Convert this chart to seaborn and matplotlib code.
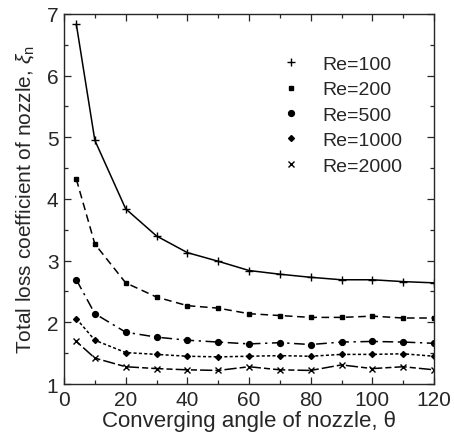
import numpy as np
import pandas as pd
import seaborn as sns
import matplotlib.pyplot as plt
from matplotlib.lines import Line2D

# converging angle (deg)
theta = [4, 10, 20, 30, 40, 50, 60, 70, 80, 90, 100, 110, 120]

re_labels = ["Re=100", "Re=200", "Re=500", "Re=1000", "Re=2000"]
xi_re100 = [6.83, 4.95, 3.84, 3.40, 3.13, 2.99, 2.84, 2.78, 2.73, 2.69, 2.69, 2.66, 2.64]
xi_re200 = [4.32, 3.27, 2.64, 2.41, 2.27, 2.23, 2.14, 2.11, 2.08, 2.08, 2.10, 2.07, 2.07]
xi_re500 = [2.69, 2.14, 1.84, 1.76, 1.71, 1.68, 1.65, 1.67, 1.64, 1.68, 1.69, 1.68, 1.66]
xi_re1000 = [2.06, 1.71, 1.51, 1.48, 1.45, 1.44, 1.45, 1.46, 1.45, 1.48, 1.48, 1.49, 1.45]
xi_re2000 = [1.69, 1.42, 1.28, 1.25, 1.23, 1.22, 1.28, 1.23, 1.22, 1.31, 1.25, 1.28, 1.23]

series = [xi_re100, xi_re200, xi_re500, xi_re1000, xi_re2000]
markers = ["+", "s", "o", "D", "x"]
msizes = [6, 3.2, 4.2, 3, 4.5]
dashes = [(None, None), (5, 3), (7, 3, 1.5, 3), (2, 1.5), (4, 2, 8, 2)]

df = pd.DataFrame({
    "theta": theta * len(series),
    "xi": sum(series, []),
    "Re": sum([[lab] * len(theta) for lab in re_labels], []),
})

sns.set_style("ticks")
plt.rcParams["font.family"] = ["Liberation Sans", "DejaVu Sans"]
plt.rcParams["mathtext.fontset"] = "custom"
plt.rcParams["mathtext.rm"] = "Liberation Sans"
plt.rcParams["mathtext.it"] = "Liberation Sans:italic"

fig = plt.figure(figsize=(4.54, 4.39), dpi=100)
ax = fig.add_axes([0.141, 0.123, 0.815, 0.843])

handles = []
for i, lab in enumerate(re_labels):
    sub = df[df["Re"] == lab]
    sns.lineplot(data=sub, x="theta", y="xi", ax=ax, color="black", lw=1.1,
                 marker=markers[i], markersize=msizes[i], markeredgewidth=1.0,
                 markeredgecolor="black", legend=False)
    line = ax.get_lines()[-1]
    if dashes[i][0] is not None:
        line.set_dashes(dashes[i])
    handles.append(Line2D([], [], color="black", lw=0, marker=markers[i],
                          markersize=msizes[i], markeredgewidth=1.0))

ax.set_xlim(0, 120)
ax.set_ylim(1, 7)
ax.set_xticks(np.arange(0, 121, 20))
ax.set_xticks(np.arange(0, 121, 10), minor=True)
ax.set_yticks(np.arange(1, 8, 1))
ax.set_yticks(np.arange(1, 7.01, 0.5), minor=True)
ax.tick_params(which="both", direction="in", top=True, right=True, width=0.9)
ax.tick_params(which="major", length=5, labelsize=15, pad=4)
ax.tick_params(which="minor", length=3)
for s in ax.spines.values():
    s.set_linewidth(1.0)

ax.set_xlabel("Converging angle of nozzle, θ", fontsize=16, labelpad=1)
ax.set_ylabel(r"Total loss coefficient of nozzle, $\xi_\mathrm{n}$", fontsize=15, labelpad=8)

ax.legend(handles, re_labels, loc="upper left", bbox_to_anchor=(0.54, 0.935),
          frameon=False, fontsize=14, handlelength=1.0, handletextpad=1.1,
          labelspacing=0.4)

fig.savefig("out.png", dpi=100)
